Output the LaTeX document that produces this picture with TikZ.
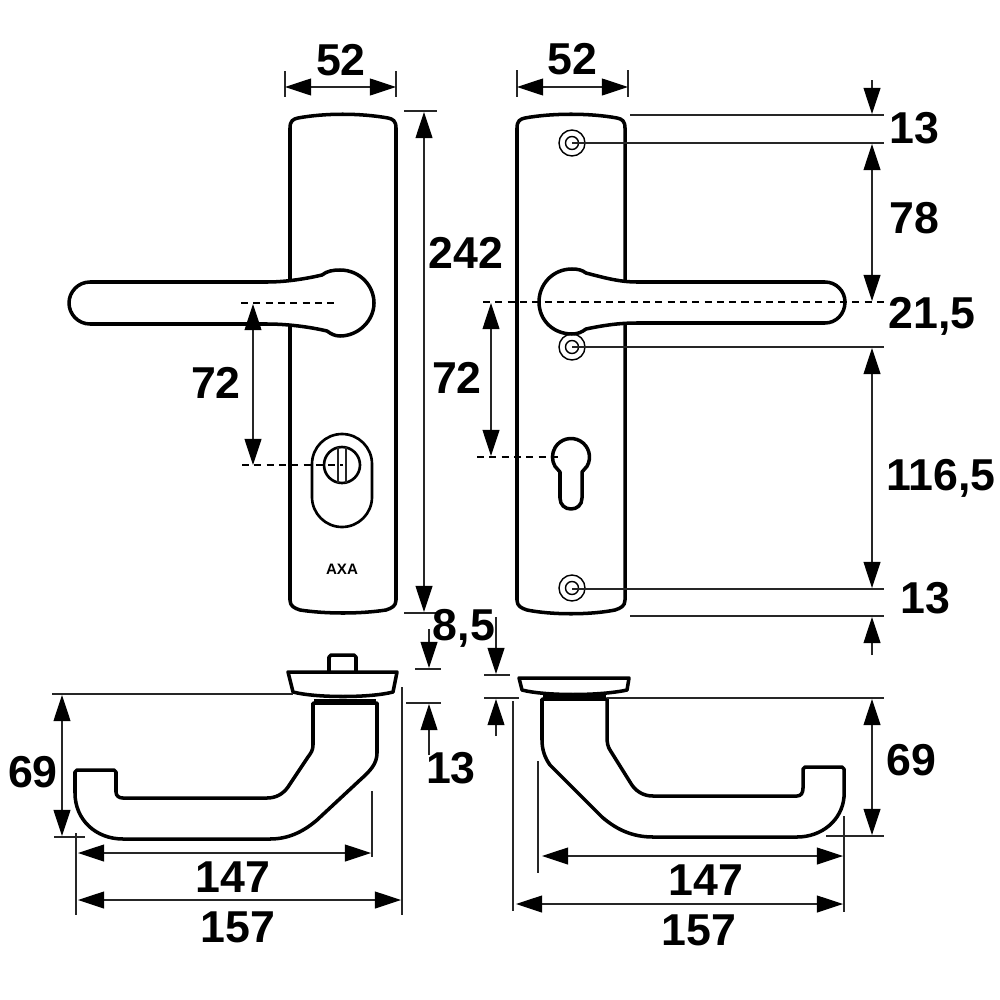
\documentclass[tikz,border=0pt]{standalone}
\usepackage{fontspec}
\setmainfont{Liberation Sans}
\usetikzlibrary{arrows.meta}
\tikzset{
  outline/.style={line width=1pt,line join=round,fill=white},
  medium/.style={line width=0.4pt},
  thin line/.style={line width=0.3pt,black!85},
  dimline/.style={line width=0.3pt,black!85,arrows={-Triangle[length=7.4pt,width=4.8pt,black]}},
  dimboth/.style={line width=0.3pt,black!85,arrows={Triangle[length=7.4pt,width=4.8pt,black]-Triangle[length=7.4pt,width=4.8pt,black]}},
  centre/.style={line width=0.3pt,dash pattern=on 2pt off 1.5pt},
  dimtext/.style={font=\fontsize{12.7}{12.7}\selectfont\bfseries,inner sep=0pt}
}
\begin{document}
\begin{tikzpicture}[x=0.01cm,y=-0.01cm]
\useasboundingbox (0,0) rectangle (1000,1000);

% ---- left plate
\draw[outline] (290,128) .. controls (290,121) and (293,119) .. (298,118)
  .. controls (325,113) and (360,113) .. (388,118)
  .. controls (393,119) and (396,121) .. (396,128)
  -- (396,600) .. controls (396,606) and (392,608) .. (386,610)
  .. controls (360,614) and (326,614) .. (300,610)
  .. controls (294,608) and (290,606) .. (290,600) -- cycle;
% left handle
\draw[outline] (90,282) -- (267,282)
  .. controls (285,282) and (305,279) .. (322,275)
  .. controls (327,271) and (333,270) .. (340,270)
  .. controls (360,270) and (374,286) .. (374,303)
  .. controls (374,321) and (358,336) .. (340,336)
  .. controls (335,336) and (331,334) .. (327,331)
  .. controls (310,327) and (288,324) .. (267,324)
  -- (90,324) .. controls (78,324) and (69,314) .. (69,303)
  .. controls (69,292) and (78,282) .. (90,282) -- cycle;
% cylinder cover
\draw[line width=0.75pt] (312,464) arc (180:360:30) -- (372,497) arc (0:180:30) -- cycle;
\draw[line width=0.75pt] (342,465) circle (18);
\draw[thin line,line width=0.5pt] (338,447) -- (338,483);
\draw[thin line,line width=0.5pt] (346,447) -- (346,483);
\node[inner sep=0pt,font=\fontsize{4.3}{4.3}\selectfont\bfseries] (axa) at (342,569) {AXA};
\draw[centre] (241,303) -- (335,303);
\draw[centre] (242,465) -- (343,465);
\draw[dimboth] (253,304) -- (253,465);

% ---- right plate
\draw[outline] (517,128) .. controls (517,121) and (520,119) .. (525,118)
  .. controls (552,113) and (590,113) .. (617,118)
  .. controls (622,119) and (625,121) .. (625,128)
  -- (625,600) .. controls (625,606) and (621,608) .. (615,610)
  .. controls (590,615) and (552,615) .. (527,610)
  .. controls (521,608) and (517,606) .. (517,600) -- cycle;
% screws
\foreach \sy/\sn in {143/a,347/b,588/c}{
  \draw[medium] (572,\sy) circle (13);
  \draw[medium] (572,\sy) circle (6.5);
}
% right handle
\draw[outline] (825,282) -- (637,282)
  .. controls (620,282) and (605,278) .. (586,273)
  .. controls (582,270) and (578,269) .. (572,269)
  .. controls (553,269) and (539,284) .. (539,302)
  .. controls (539,320) and (553,334) .. (572,334)
  .. controls (578,334) and (582,332) .. (586,329)
  .. controls (605,325) and (620,323) .. (637,323)
  -- (825,323) .. controls (836,323) and (845,314) .. (845,302)
  .. controls (845,291) and (836,282) .. (825,282) -- cycle;
% keyhole
\draw[line width=1pt,line join=round] (560,472) -- (560,498)
  .. controls (560,505) and (565,509) .. (571,509)
  .. controls (577,509) and (582,505) .. (582,498)
  -- (582,472) -- (587,466.25)
  arc (30:-210:18.5) -- cycle;
\draw[centre] (483,302) -- (884,302);
\draw[centre] (477,457) -- (563,457);
\draw[dimboth] (491,303) -- (491,456);

% ---- left lower view
\draw[outline] (329,672) -- (329,657) -- (331,655) -- (354,655) -- (356,657) -- (356,672);
\draw[outline] (288,672) -- (397,672) -- (393,692)
  .. controls (370,698) and (316,698) .. (293,692) -- cycle;
\draw[outline] (313,703) -- (377,703) -- (377,753)
  .. controls (377,764) and (370,771) .. (360,780)
  -- (317,820) .. controls (303,832) and (288,839) .. (270,839)
  -- (123,839) .. controls (96,839) and (75,820) .. (75,793)
  -- (75,772) -- (77,770) -- (114,770) -- (116,772) -- (116,792)
  .. controls (116,796) and (119,798) .. (123,798)
  -- (267,798) .. controls (276,798) and (283,794) .. (288,787)
  -- (308,757) .. controls (311,753) and (313,750) .. (313,745) -- cycle;
\draw[line width=1.6pt] (314,702) -- (376,702);

% ---- right lower view
\draw[outline] (519,678) -- (629,678) -- (627,690)
  .. controls (600,696) and (545,696) .. (522,690) -- cycle;
\draw[outline] (542,699) -- (607,699) -- (607,737)
  .. controls (607,743) and (608,747) .. (610,750)
  -- (630,782) .. controls (635,791) and (643,796) .. (653,796)
  -- (797,796) .. controls (801,796) and (803,793) .. (803,788)
  -- (803,769) -- (805,767) -- (842,767) -- (844,769) -- (844,797)
  .. controls (842,820) and (822,837) .. (797,837)
  -- (653,837) .. controls (633,837) and (617,830) .. (602,817)
  -- (550,765) .. controls (545,758) and (542,750) .. (542,740) -- cycle;
\draw[line width=1.6pt] (543,698) -- (606,698);

% ---- dimensions: top widths
\draw[thin line] (285,71) -- (285,97);
\draw[thin line] (396,71) -- (396,97);
\draw[dimboth] (285,87) -- (396,87);
\node[dimtext] (w52a) at (341,60) {52};
\draw[thin line] (517,70) -- (517,97);
\draw[thin line] (628,70) -- (628,97);
\draw[dimboth] (517,87) -- (628,87);
\node[dimtext] (w52b) at (572,59) {52};

% 242
\draw[thin line] (404,111) -- (437,111);
\draw[thin line] (404,613) -- (437,613);
\draw[dimboth] (424,112) -- (424,612);
\node[dimtext] (d242) at (466,253) {242};
\node[dimtext] (d72m) at (457,378) {72};
\node[dimtext] (d72l) at (216,383) {72};

% right chain
\draw[thin line] (630,115) -- (884,115);
\draw[thin line] (572,143) -- (884,143);
\draw[thin line] (572,347) -- (884,347);
\draw[thin line] (572,589) -- (884,589);
\draw[thin line] (630,616) -- (884,616);
\draw[dimline] (872,80) -- (872,114);
\draw[dimboth] (872,144) -- (872,301);
\draw[dimboth] (872,348) -- (872,588);
\draw[dimline] (872,655) -- (872,617);
\node[dimtext] (d13a) at (914,128) {13};
\node[dimtext] (d78) at (914,218) {78};
\node[dimtext] (d215) at (932,316) {21,5};
\node[dimtext] (d1165) at (941,478) {116,5};
\node[dimtext] (d13b) at (925,598) {13};

% middle
\draw[thin line] (415,669) -- (441,669);
\draw[thin line] (406,703) -- (441,703);
\draw[dimline] (429,629) -- (429,668);
\draw[dimline] (429,755) -- (429,704);
\draw[thin line] (484,675) -- (510,675);
\draw[thin line] (484,698) -- (519,698);
\draw[dimline] (496,617) -- (496,674);
\draw[dimline] (496,736) -- (496,699);
\node[dimtext] (d85) at (464,628) {8,5};
\node[dimtext] (d13c) at (451,768) {13};

% lower left dims
\draw[thin line] (52,694) -- (293,694);
\draw[dimboth] (62,695) -- (62,836);
\draw[thin line] (54,837) -- (85,837);
\draw[thin line] (76,833) -- (76,915);
\draw[thin line] (372,791) -- (372,857);
\draw[thin line] (402,687) -- (402,915);
\draw[dimboth] (78,853) -- (371,853);
\draw[dimboth] (78,900) -- (401,900);
\node[dimtext] (d69l) at (33,772) {69};
\node[dimtext] (d147l) at (233,877) {147};
\node[dimtext] (d157l) at (238,927) {157};

% lower right dims
\draw[thin line] (607,698) -- (884,698);
\draw[dimboth] (872,699) -- (872,835);
\draw[thin line] (826,836) -- (884,836);
\draw[thin line] (844,816) -- (844,912);
\draw[thin line] (538,761) -- (538,873);
\draw[thin line] (513,701) -- (513,911);
\draw[dimboth] (542,856) -- (843,856);
\draw[dimboth] (516,904) -- (843,904);
\node[dimtext] (d69r) at (911,760) {69};
\node[dimtext] (d147r) at (706,880) {147};
\node[dimtext] (d157r) at (699,930) {157};
\end{tikzpicture}
\end{document}
